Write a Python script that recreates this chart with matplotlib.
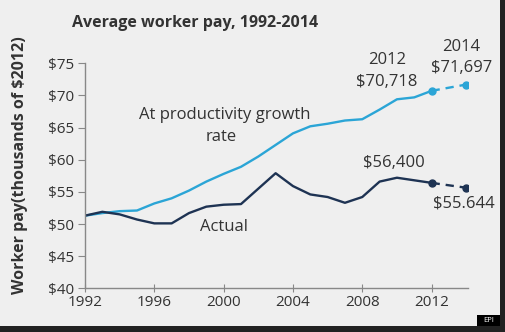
import matplotlib
matplotlib.use("Agg")
import matplotlib.pyplot as plt
from matplotlib.patches import Rectangle

years = list(range(1992, 2013))
productivity = [51.3, 51.7, 52.0, 52.1, 53.2, 54.0, 55.2, 56.6, 57.8, 58.9, 60.5,
                62.3, 64.1, 65.2, 65.6, 66.1, 66.3, 67.8, 69.4, 69.7, 70.718]
actual = [51.3, 51.9, 51.5, 50.7, 50.1, 50.1, 51.7, 52.7, 53.0, 53.1, 55.5,
          57.9, 55.9, 54.6, 54.2, 53.3, 54.2, 56.6, 57.2, 56.8, 56.4]
proj_years = [2012, 2014]
proj_productivity = [70.718, 71.697]
proj_actual = [56.4, 55.644]
yticks = [40, 45, 50, 55, 60, 65, 70, 75]
ytick_labels = ["$40", "$45", "$50", "$55", "$60", "$65", "$70", "$75"]
xticks = [1992, 1996, 2000, 2004, 2008, 2012]

plt.rcParams['font.family'] = ['Open Sans', 'DejaVu Sans']
BG = "#efefef"
TXT = "#333333"
LIGHT = "#2ba5d6"
DARK = "#1e3353"

fig = plt.figure(figsize=(5.05, 3.32), dpi=100, facecolor=BG)
ax = fig.add_axes([85/505, 1-288.3/332, (468-85)/505, (288.3-63.3)/332])
ax.set_facecolor(BG)

ax.plot(years, productivity, color=LIGHT, lw=1.7, solid_joinstyle='round')
ax.plot(years, actual, color=DARK, lw=1.7, solid_joinstyle='round')
ax.plot(proj_years, proj_productivity, color=LIGHT, lw=1.7, ls=(0, (3.5, 2.5)),
        marker='o', ms=5)
ax.plot(proj_years, proj_actual, color=DARK, lw=1.7, ls=(0, (3.5, 2.5)),
        marker='o', ms=5)

ax.set_xlim(1992, 2014.1)
ax.set_ylim(40, 75)
ax.set_yticks(yticks)
ax.set_yticklabels(ytick_labels)
ax.set_xticks(xticks)
for s in ['top', 'right']:
    ax.spines[s].set_visible(False)
for s in ['left', 'bottom']:
    ax.spines[s].set_color("#888888")
    ax.spines[s].set_linewidth(1.0)
ax.tick_params(axis='y', direction='out', length=5, color="#888888",
               labelsize=11, labelcolor=TXT, pad=3)
ax.tick_params(axis='x', direction='inout', length=6, color="#888888",
               labelsize=11, labelcolor=TXT, pad=2)

fig.text(20/505, 1-165/332, "Worker pay(thousands of $2012)", rotation=90,
         ha='center', va='center', fontsize=11.5, fontweight='bold', color=TXT)

fig.text(72/505, 1-23/332, "Average worker pay, 1992-2014", ha='left', va='center',
         fontsize=11.5, fontweight='bold', color=TXT)

def ftxt(x, y, s, **kw):
    fig.text(x/505, 1-y/332, s, ha='center', va='center', fontsize=12,
             color=TXT, **kw)

ftxt(225, 115, "At productivity growth")
ftxt(221, 137, "rate")
ftxt(224, 227, "Actual")
ftxt(387, 60, "2012")
ftxt(387, 82, "$70,718")
ftxt(461, 47, "2014")
ftxt(461.5, 68, "$71,697")
ftxt(394, 163, "$56,400")
ftxt(464, 203, "$55.644")

# frame shadow
fig.patches.append(Rectangle((500/505, 0), 5/505, 1, transform=fig.transFigure,
                             facecolor="#222222", edgecolor='none'))
fig.patches.append(Rectangle((0, 0), 1, 6/332, transform=fig.transFigure,
                             facecolor="#222222", edgecolor='none'))
fig.patches.append(Rectangle((477/505, 6/332), 23/505, 11/332, transform=fig.transFigure,
                             facecolor="#000000", edgecolor='none'))
fig.text(488.5/505, 11.5/332, "EPI", ha='center', va='center', fontsize=5.5,
         color='white')

fig.savefig("out.png", dpi=100, facecolor=BG)
